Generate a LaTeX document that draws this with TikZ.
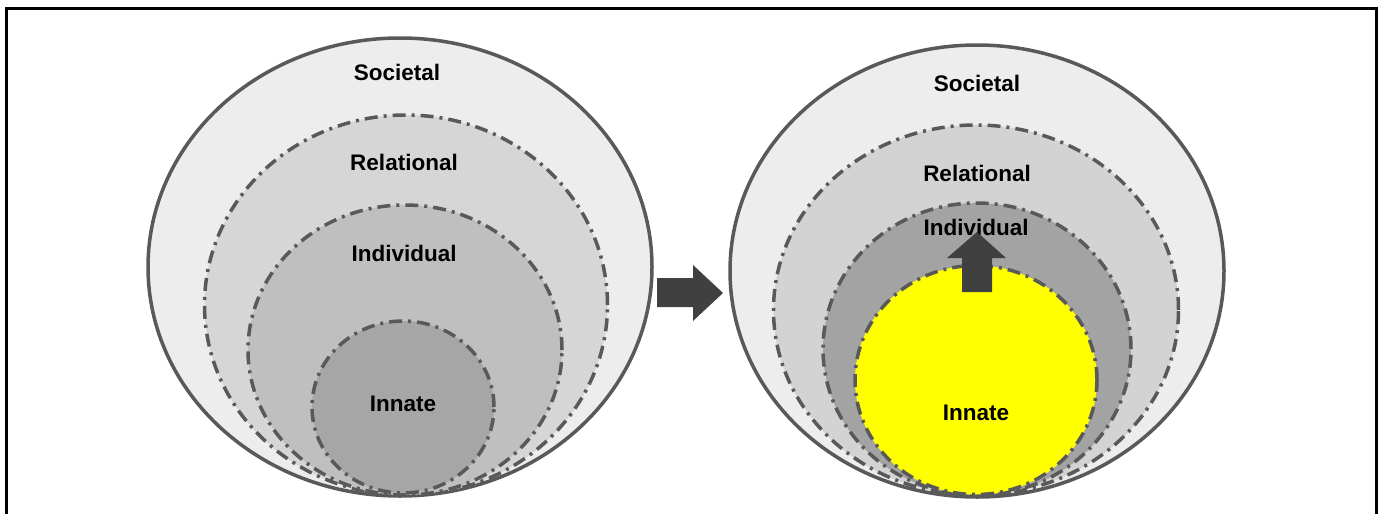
\documentclass[tikz,border=0pt]{standalone}
\usepackage{fontspec}
\setmainfont{Liberation Sans}
\usetikzlibrary{shapes.geometric}
\definecolor{ringline}{HTML}{595959}
\definecolor{socfill}{HTML}{EDEDED}
\definecolor{relfill}{HTML}{D6D6D6}
\definecolor{indfill}{HTML}{BFBFBF}
\definecolor{innfill}{HTML}{A6A6A6}
\definecolor{indfillB}{HTML}{A3A3A3}
\definecolor{relfillB}{HTML}{D3D3D3}
\definecolor{innfillB}{HTML}{FFFF00}
\definecolor{arrowfill}{HTML}{404040}
\tikzset{
  ring/.style={ellipse, inner sep=0pt, draw=ringline, line width=3.5pt},
  outerring/.style={ring},
  dashring/.style={ring, dash pattern=on 13pt off 6pt on 3pt off 6pt},
  lbl/.style={font=\fontsize{22.5}{26}\selectfont\bfseries, text=black, inner sep=0pt},
  bigarrow/.style={fill=arrowfill, draw=none}
}
\begin{document}
\begin{tikzpicture}[x=1pt,y=-1pt]
\useasboundingbox (0,0) rectangle (1381,514);
% frame
\draw[line width=3pt] (6,514) -- (6,8) -- (1376,8) -- (1376,514);
% left figure
\node[outerring, fill=socfill, minimum width=504pt, minimum height=458pt] (socL) at (400,267) {};
\node[dashring, fill=relfill, minimum width=403pt, minimum height=380pt] (relL) at (406,305) {};
\node[dashring, fill=indfill, minimum width=314pt, minimum height=290pt] (indL) at (405,350) {};
\node[dashring, fill=innfill, minimum width=182pt, minimum height=172pt] (innL) at (403,407) {};
\node[lbl] (tSocL) at (397,72) {Societal};
\node[lbl] (tRelL) at (404,162) {Relational};
\node[lbl] (tIndL) at (404,253) {Individual};
\node[lbl] (tInnL) at (403,404) {Innate};
% middle arrow
\fill[bigarrow] (657,278) -- (693,278) -- (693,265) -- (723,293) -- (693,321) -- (693,307) -- (657,307) -- cycle;
% right figure
\node[outerring, fill=socfill, minimum width=494pt, minimum height=452pt] (socR) at (977,271) {};
\node[dashring, fill=relfillB, minimum width=405pt, minimum height=370pt] (relR) at (976,310) {};
\node[dashring, fill=indfillB, minimum width=308pt, minimum height=292pt] (indR) at (977,349) {};
\node[dashring, fill=innfillB, minimum width=242pt, minimum height=229pt] (innR) at (976,380) {};
\node[lbl] (tSocR) at (977,83) {Societal};
\node[lbl] (tRelR) at (977,173) {Relational};
\node[lbl] (tIndR) at (976,227) {Individual};
\node[lbl] (tInnR) at (976,413) {Innate};
% up arrow
\fill[bigarrow] (962,292) -- (962,258) -- (947,258) -- (977,232) -- (1006,258) -- (992,258) -- (992,292) -- cycle;
\end{tikzpicture}
\end{document}
